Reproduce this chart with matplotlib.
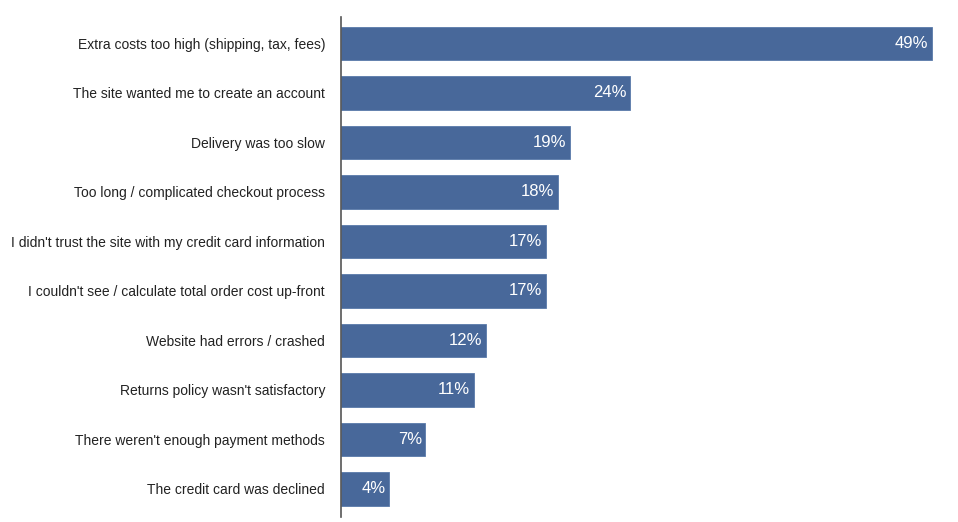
import matplotlib
matplotlib.use("Agg")
import matplotlib.pyplot as plt

# reasons for abandoning checkout, top to bottom
reasons = [
    "Extra costs too high (shipping, tax, fees)",
    "The site wanted me to create an account",
    "Delivery was too slow",
    "Too long / complicated checkout process",
    "I didn't trust the site with my credit card information",
    "I couldn't see / calculate total order cost up-front",
    "Website had errors / crashed",
    "Returns policy wasn't satisfactory",
    "There weren't enough payment methods",
    "The credit card was declined",
]
percent = [49, 24, 19, 18, 17, 17, 12, 11, 7, 4]

plt.rcParams['font.family'] = ['Liberation Sans', 'DejaVu Sans']

fig = plt.figure(figsize=(9.58, 5.22), dpi=100)
ax = fig.add_axes([341 / 958, 5 / 522, 603 / 958, 500 / 522])

ypos = list(range(len(reasons)))
bars = ax.barh(ypos, percent, height=0.67, color="#48689a", edgecolor="#5a7aaa", linewidth=0.6)

for b, p in zip(bars, percent):
    ax.text(b.get_width() - 0.3, b.get_y() + b.get_height() / 2, f"{p}%",
            ha="right", va="center", color="white", fontsize=12)

ax.set_yticks(ypos)
ax.set_yticklabels(reasons, fontsize=10, color="#222222")
ax.set_ylim(9.566, -0.535)
ax.set_xlim(0, 50)
ax.tick_params(axis="y", length=0, pad=11.5)
ax.set_xticks([])

for side in ["top", "right", "bottom"]:
    ax.spines[side].set_visible(False)
ax.spines["left"].set_color("#555555")
ax.spines["left"].set_linewidth(1.2)

fig.savefig("out.png", dpi=100)
